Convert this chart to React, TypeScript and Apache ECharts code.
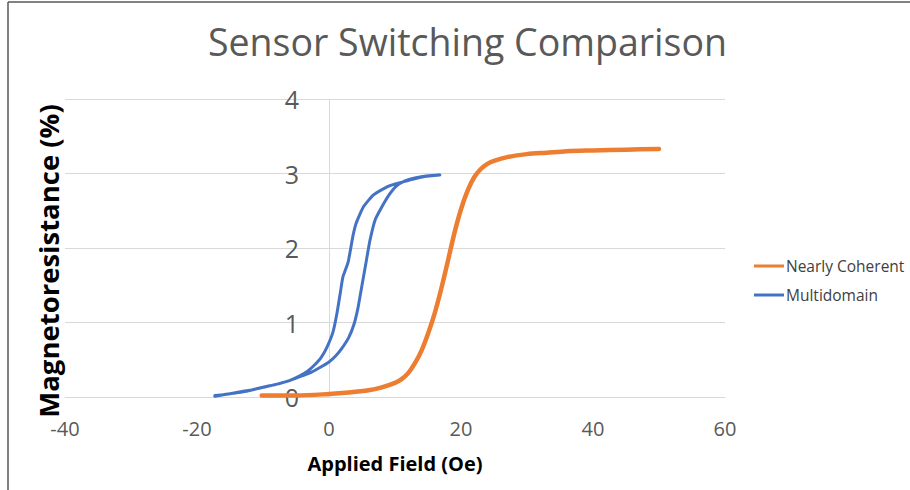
import React, { useEffect, useRef } from "react";
import * as echarts from "echarts";

// Applied field (Oe) and magnetoresistance (%) for the nearly coherent sensor
const coherentField = [-10.2, -5, 0, 3, 6, 8, 10, 11, 12, 13, 14, 15, 16, 17, 18, 19, 20, 21, 22, 23, 24, 25, 27, 30, 33, 36, 40, 45, 50];
const coherentMR = [0.02, 0.02, 0.04, 0.06, 0.09, 0.13, 0.19, 0.24, 0.32, 0.45, 0.62, 0.85, 1.12, 1.45, 1.82, 2.2, 2.52, 2.77, 2.95, 3.06, 3.13, 3.17, 3.22, 3.26, 3.28, 3.3, 3.31, 3.32, 3.33];

// Multidomain sensor: up-sweep followed by the return sweep (hysteresis loop)
const multiField = [
  -17.3, -16, -14.5, -13, -11, -9, -7.5, -6, -4.5, -3, -1.5, 0, 1, 2, 3, 3.8, 4.4, 5, 5.6, 6.2, 7, 8, 9, 10.2, 11.5, 13, 15, 16.8,
  14.5, 12.5, 10.5, 9.7, 8.8, 6.7, 5.2, 4.1, 3.6, 2.9, 2.1, 1.7, 1.2, 0.6, -0.3, -1.2, -2.2, -3.2, -4.5, -6, -8, -10, -12, -14, -16, -17.3,
];
const multiMR = [
  0.02, 0.03, 0.05, 0.07, 0.11, 0.15, 0.18, 0.22, 0.27, 0.32, 0.39, 0.47, 0.55, 0.66, 0.8, 0.98, 1.2, 1.5, 1.8, 2.1, 2.38, 2.55, 2.7, 2.83, 2.9, 2.94, 2.97, 2.98,
  2.96, 2.92, 2.87, 2.85, 2.82, 2.71, 2.55, 2.33, 2.15, 1.81, 1.61, 1.39, 1.12, 0.87, 0.67, 0.53, 0.43, 0.35, 0.28, 0.22, 0.17, 0.13, 0.09, 0.06, 0.03, 0.01,
];

const seriesNames = ["Nearly Coherent", "Multidomain"];
const seriesColors = ["#ed7d31", "#4472c4"];

const xMin = -40;
const xMax = 60;
const xStep = 20;
const yMin = 0;
const yMax = 4;
const yStep = 1;

const FONT = "'Open Sans', 'Noto Sans', sans-serif";
const GREY_TEXT = "#595959";
const GRID_LINE = "#d9d9d9";

const GRID_LEFT = 65;
const GRID_RIGHT = 725;

const zip = (xs: number[], ys: number[]) => xs.map((x, i) => [x, ys[i]]);

export default function App() {
  const ref = useRef<HTMLDivElement>(null);

  useEffect(() => {
    if (!ref.current) return;
    const chart = echarts.init(ref.current, null, { renderer: "svg" });
    // vertical axis crosses the horizontal one at field = 0
    const zeroX = GRID_LEFT + ((0 - xMin) / (xMax - xMin)) * (GRID_RIGHT - GRID_LEFT);
    chart.setOption({
      animation: false,
      backgroundColor: "#ffffff",
      textStyle: { fontFamily: FONT },
      title: {
        text: "Sensor Switching Comparison",
        left: 203,
        top: 17,
        textStyle: { fontFamily: FONT, fontSize: 37.5, fontWeight: "normal", color: GREY_TEXT },
      },
      legend: {
        orient: "vertical",
        left: 754,
        top: 258,
        padding: 0,
        itemGap: 13,
        itemWidth: 30,
        itemHeight: 3,
        icon: "rect",
        data: seriesNames,
        textStyle: { fontFamily: FONT, fontSize: 15.5, color: "#404040", padding: [0, 0, 0, -3] },
      },
      grid: { left: GRID_LEFT, right: 910 - GRID_RIGHT, top: 99, bottom: 93, containLabel: false },
      xAxis: {
        type: "value",
        min: xMin,
        max: xMax,
        interval: xStep,
        name: "Applied Field (Oe)",
        nameLocation: "middle",
        nameGap: 56,
        nameTextStyle: { fontFamily: FONT, fontSize: 20, fontWeight: "bold", color: "#000" },
        axisLine: { show: true, onZero: false, lineStyle: { color: GRID_LINE, width: 1 } },
        axisTick: { show: false },
        splitLine: { show: false },
        axisLabel: { fontFamily: FONT, fontSize: 20, color: GREY_TEXT, margin: 21 },
      },
      yAxis: {
        type: "value",
        min: yMin,
        max: yMax,
        interval: yStep,
        offset: GRID_LEFT - zeroX,
        axisLine: { show: true, onZero: false, lineStyle: { color: GRID_LINE, width: 1 } },
        axisTick: { show: false },
        splitLine: { show: true, lineStyle: { color: GRID_LINE, width: 1 } },
        axisLabel: { fontFamily: FONT, fontSize: 25, color: GREY_TEXT, margin: 30 },
      },
      graphic: [
        {
          type: "text",
          x: 48,
          y: 261,
          rotation: Math.PI / 2,
          style: {
            text: "Magnetoresistance (%)",
            fontFamily: FONT,
            fontSize: 27.5,
            fontWeight: "bold",
            fill: "#000",
            align: "center",
            verticalAlign: "middle",
          },
        },
        { type: "line", shape: { x1: 8, y1: 2, x2: 8, y2: 490 }, style: { stroke: "#595959", lineWidth: 1.5 } },
        { type: "line", shape: { x1: 8, y1: 2, x2: 910, y2: 2 }, style: { stroke: "#595959", lineWidth: 1.5 } },
      ],
      series: [
        {
          name: seriesNames[0],
          type: "line",
          data: zip(coherentField, coherentMR),
          smooth: 0.3,
          showSymbol: false,
          symbol: "none",
          color: seriesColors[0],
          lineStyle: { width: 4.5, color: seriesColors[0], cap: "round", join: "round" },
          z: 3,
        },
        {
          name: seriesNames[1],
          type: "line",
          data: zip(multiField, multiMR),
          smooth: 0.15,
          showSymbol: false,
          symbol: "none",
          color: seriesColors[1],
          lineStyle: { width: 3, color: seriesColors[1], cap: "round", join: "round" },
          z: 4,
        },
      ],
    });
    return () => chart.dispose();
  }, []);

  return (
    <div
      ref={ref}
      style={{ position: "absolute", left: 0, top: 0, width: 910, height: 490 }}
    />
  );
}
